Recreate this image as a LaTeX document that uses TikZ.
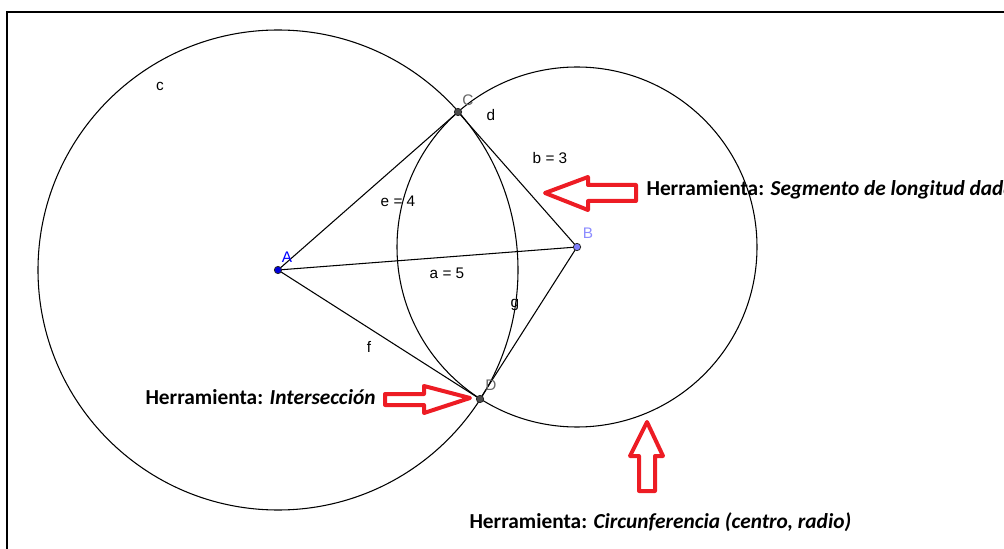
\documentclass[tikz,border=0pt]{standalone}
\usepackage{fontspec}
\setmainfont{Carlito}
\newfontfamily\ggbfont{Liberation Sans}
\usetikzlibrary{arrows.meta,positioning,calc}
\definecolor{paintred}{RGB}{237,28,36}
\definecolor{ptblue}{RGB}{0,0,220}
\definecolor{ltblue}{RGB}{128,128,255}
\definecolor{lblblue}{RGB}{140,140,255}

\begin{document}
\begin{tikzpicture}[x=0.75pt,y=-0.75pt,line width=0.8pt,
  lbl/.style={font=\ggbfont\fontsize{11.5}{13}\selectfont,inner sep=0pt},
  pt/.style={circle,draw=black!85,line width=0.6pt,inner sep=0pt,minimum size=5.5pt},
  tool/.style={anchor=west,inner sep=0pt,font=\fontsize{16}{19}\selectfont\bfseries},
  blockarrow/.style={draw=paintred,line width=3pt,line join=round}]
\useasboundingbox (0,0) rectangle (1004,549);
\draw (7,549) -- (7,12) -- (1004,12);
% construction points
\coordinate (A) at (278,270);
\coordinate (B) at (577,247);
\coordinate (C) at (458,112);
\coordinate (D) at (480,399);
% circles c and d
\draw (A) circle[radius=180pt];
\draw (B) circle[radius=135pt];
% segments
\draw (A) -- (B);
\draw (A) -- (C) -- (B) -- (D) -- (A);
\node[pt,fill=ptblue] (pA) at (A) {};
\node[pt,fill=ltblue] (pB) at (B) {};
\node[pt,fill=black!70] (pC) at (C) {};
\node[pt,fill=black!70] (pD) at (D) {};
% labels
\node[lbl] at (160,86) {c};
\node[lbl,text=black!60] at (468,100) {C};
\node[lbl] at (491,115) {d};
\node[lbl] at (550,158) {b = 3};
\node[lbl] at (398,201) {e = 4};
\node[lbl,text=blue] at (287,257) {A};
\node[lbl,text=lblblue] at (588,233) {B};
\node[lbl] at (447,273) {a = 5};
\node[lbl] at (515,305) {g};
\node[lbl] at (369,347) {f};
\node[lbl,text=black!60] at (491,385) {D};
% red arrows
\draw[blockarrow] (545,193) -- (588,177) -- (588,185) -- (636,185) -- (636,201) -- (588,201) -- (588,210) -- cycle;
\draw[blockarrow] (470,398) -- (424,386) -- (424,394) -- (385,394) -- (385,405) -- (424,405) -- (424,413) -- cycle;
\draw[blockarrow] (647,422) -- (663,456) -- (655,456) -- (655,491) -- (639,491) -- (639,456) -- (630,456) -- cycle;
% tool names
\node[tool] (t1) at (646,190) {Herramienta: \textit{Segmento de longitud dada}};
\node[tool] (t2) at (145,397) {Herramienta: \textit{Intersección}};
\node[tool] (t3) at (469,522) {Herramienta: \textit{Circunferencia (centro, radio)}};
\end{tikzpicture}
\end{document}
